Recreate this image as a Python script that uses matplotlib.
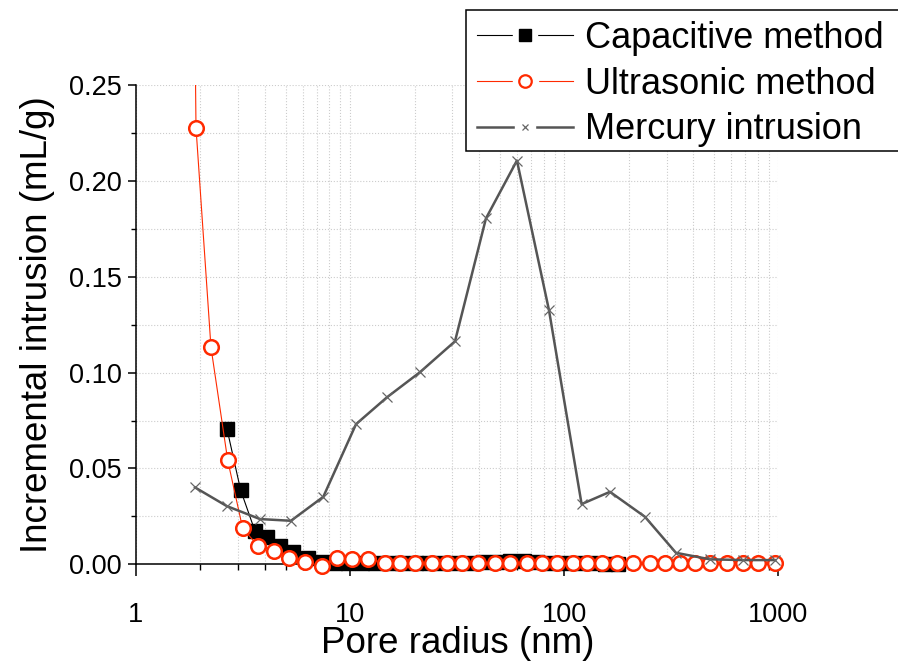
import matplotlib
matplotlib.use("Agg")
import matplotlib.pyplot as plt
from matplotlib.lines import Line2D
from matplotlib.patches import Rectangle
from matplotlib.legend_handler import HandlerTuple
from matplotlib.ticker import FixedLocator, FixedFormatter, LogLocator, NullFormatter, MultipleLocator, FormatStrFormatter

plt.rcParams["font.family"] = ["Liberation Sans", "DejaVu Sans"]

# capacitive method (pore radius in nm, incremental intrusion in mL/g)
cap_radius = [2.66, 3.08, 3.59, 4.10, 4.70, 5.43, 6.38, 7.36, 8.49, 9.82,
              11.35, 13.13, 15.18, 17.54, 20.29, 23.46, 27.12, 31.35, 36.25, 41.92,
              48.45, 56.03, 64.78, 74.89, 86.58, 100.1, 115.7, 133.8, 154.7, 178.9]
cap_volume = [0.0706, 0.0387, 0.0175, 0.0144, 0.0097, 0.0066, 0.0033, 0.0014, 0.0008, 0.0008,
              0.0007, 0.0007, 0.0006, 0.0006, 0.0006, 0.0006, 0.0006, 0.0007, 0.0008, 0.0010,
              0.0013, 0.0016, 0.0016, 0.0013, 0.0009, 0.0006, 0.0005, 0.0005, 0.0004, 0.0003]

# ultrasonic method
ultra_radius = [1.80, 1.906, 2.239, 2.680, 3.149, 3.724, 4.422, 5.196, 6.152, 7.362,
                8.650, 10.16, 12.15, 14.54, 17.08, 20.07, 24.02, 28.21, 33.15, 39.51,
                47.42, 55.72, 66.68, 78.34, 92.05, 110.0, 127.1, 149.4, 175.5, 209.8,
                250.9, 294.9, 346.5, 407.1, 478.3, 572.3, 684.2, 801.3, 962.0]
ultra_volume = [0.50, 0.2278, 0.1132, 0.0543, 0.0187, 0.0095, 0.0071, 0.0033, 0.0012, -0.0010,
                0.0034, 0.0028, 0.0028, 0.0008, 0.0005, 0.0005, 0.0005, 0.0006, 0.0005, 0.0006,
                0.0005, 0.0005, 0.0005, 0.0005, 0.0005, 0.0006, 0.0005, 0.0005, 0.0005, 0.0005,
                0.0005, 0.0005, 0.0005, 0.0005, 0.0005, 0.0005, 0.0005, 0.0005, 0.0005]

# mercury intrusion
hg_radius = [1.886, 2.65, 3.79, 5.29, 7.49, 10.65, 14.85, 21.18, 30.86, 43.05,
             60.07, 84.8, 120.4, 163.3, 237.8, 332.0, 478.5, 684.0, 962.0]
hg_volume = [0.0401, 0.0304, 0.0236, 0.0227, 0.0352, 0.0731, 0.0871, 0.1002, 0.1163, 0.1804,
             0.2106, 0.1325, 0.0314, 0.0378, 0.0248, 0.0060, 0.0026, 0.0022, 0.0022]

xticks = [1, 10, 100, 1000]
xtick_labels = ["1", "10", "100", "1000"]
labels = ["Capacitive method", "Ultrasonic method", "Mercury intrusion"]

RED = "#ff2a00"
GREY = "#555555"
Y_MAX = 0.25
W, H = 898, 671

fig = plt.figure(figsize=(W / 100, H / 100), dpi=100)
ax = fig.add_axes([136 / W, 1 - 564.3 / H, (778.5 - 136) / W, (564.3 - 85) / H])
ax.set_xscale("log")
ax.set_xlim(1, 1000)
ax.set_ylim(0, Y_MAX)


def in_range(xs, ys):
    # markers are drawn unclipped, so drop the ones above the frame
    pts = [(a, b) for a, b in zip(xs, ys) if b <= Y_MAX]
    return [p[0] for p in pts], [p[1] for p in pts]


ax.plot(cap_radius, cap_volume, color="black", lw=0.8, zorder=3)
cx, cy = in_range(cap_radius, cap_volume)
ax.plot(cx, cy, ls="none", marker="s", ms=9.5, mfc="black", mec="black", zorder=3.1, clip_on=False)

ax.plot(ultra_radius, ultra_volume, color=RED, lw=0.8, zorder=4)
ux, uy = in_range(ultra_radius, ultra_volume)
ax.plot(ux, uy, ls="none", marker="o", ms=10.5, mfc="white", mec=RED, mew=1.8, zorder=4.1, clip_on=False)

ax.plot(hg_radius, hg_volume, color=GREY, lw=1.8, zorder=5)
ax.plot(hg_radius, hg_volume, ls="none", marker="x", ms=6.5, mec="#666666", mew=0.9, zorder=5.1, clip_on=False)

# axes styling
for side in ["top", "right"]:
    ax.spines[side].set_visible(False)
for side in ["left", "bottom"]:
    ax.spines[side].set_linewidth(1.1)

ax.xaxis.set_major_locator(FixedLocator(xticks))
ax.xaxis.set_major_formatter(FixedFormatter(xtick_labels))
ax.xaxis.set_minor_locator(LogLocator(base=10, subs=[2, 3, 4, 5, 6, 7, 8, 9]))
ax.xaxis.set_minor_formatter(NullFormatter())
ax.yaxis.set_major_locator(MultipleLocator(0.05))
ax.yaxis.set_minor_locator(MultipleLocator(0.025))
ax.yaxis.set_major_formatter(FormatStrFormatter("%.2f"))

ax.tick_params(axis="x", which="major", direction="out", length=8.5, width=1.1, labelsize=19.5, pad=19)
ax.tick_params(axis="x", which="minor", direction="out", length=4.3, width=1.0)
ax.tick_params(axis="y", which="major", direction="out", length=6, width=1.1, labelsize=19.5, pad=4)
ax.tick_params(axis="y", which="minor", direction="out", length=3.6, width=1.0)

ax.grid(True, which="both", color="#cccccc", linestyle=":", linewidth=0.8)
ax.set_axisbelow(True)

ax.set_xlabel("Pore radius (nm)", fontsize=26.5, labelpad=-1.5)
ax.set_ylabel("Incremental intrusion (mL/g)", fontsize=26.5, labelpad=10)

# legend handles with a small gap around the symbol, like the original
def gap_handle(color, lw, marker, ms, **kw):
    line = Line2D([], [], color=color, lw=lw)
    mask = Line2D([], [], ls="none", marker="s", ms=ms + 9, mfc="white", mec="white")
    sym = Line2D([], [], ls="none", marker=marker, ms=ms, **kw)
    return (line, mask, sym)


handles = [
    gap_handle("black", 0.8, "s", 8.5, mfc="black", mec="black"),
    gap_handle(RED, 0.8, "o", 9, mfc="white", mec=RED, mew=1.6),
    gap_handle(GREY, 1.8, "x", 5, mec="#666666", mew=0.9),
]
leg = ax.legend(handles, labels, handler_map={tuple: HandlerTuple(ndivide=1)},
                loc="upper left", bbox_to_anchor=(466 / W, 1 - 10 / H),
                bbox_transform=fig.transFigure, fontsize=26, frameon=False,
                handlelength=2.65, handletextpad=0.35,
                borderpad=0.3, labelspacing=0.3, borderaxespad=0)
leg.set_zorder(10)

# the original legend box runs past the right edge of the figure
box = Rectangle((466 / W, 1 - 151 / H), (930 - 466) / W, 141 / H, transform=fig.transFigure,
                facecolor="white", edgecolor="black", linewidth=1.1, clip_on=False, zorder=9)
ax.add_patch(box)

fig.savefig("out.png", dpi=100)
